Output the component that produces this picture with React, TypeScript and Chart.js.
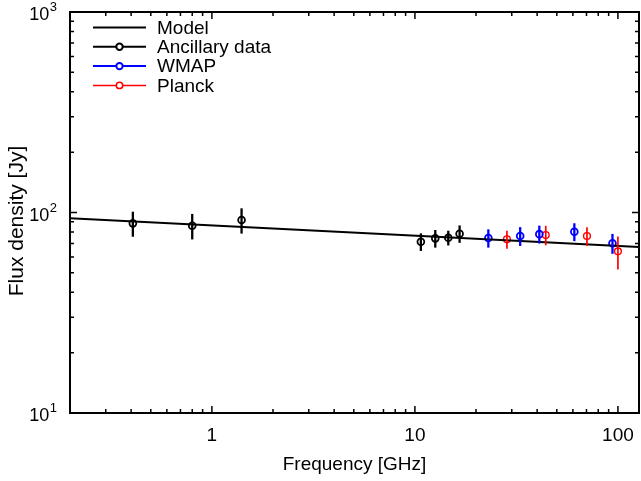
import React, { useEffect, useRef } from "react";
import { Chart, registerables } from "chart.js";

Chart.register(...registerables);

// ---- Data ----
const modelFreq = [0.2, 127];
const modelFlux = [93.6, 67.3];

const ancFreq = [0.408, 0.8, 1.4, 10.7, 12.6, 14.6, 16.6];
const ancFlux = [88.3, 85.9, 91.7, 71.5, 74.3, 74.8, 78.4];
const ancErr = [12.6, 12.5, 13.2, 7.2, 7.5, 6.3, 7.8];

const wmapFreq = [23, 33, 41, 61, 94];
const wmapFlux = [74.6, 76.3, 78.0, 80.2, 70.2];
const wmapErr = [7.8, 8.2, 8.0, 8.2, 8.0];

const planckFreq = [28.4, 44.1, 70.4, 100];
const planckFlux = [73.5, 77.2, 76.3, 64.0];
const planckErr = [7.6, 8.6, 8.2, 12.0];

const xMin = 0.2;
const xMax = 127;
const yMin = 10;
const yMax = 1000;
const xMajorTicks = [1, 10, 100];
const xTickLabels = ["1", "10", "100"];
const yMajorTicks = [10, 100, 1000];
const yTickExp = ["1", "2", "3"];

const legendLabels = ["Model", "Ancillary data", "WMAP", "Planck"];
const BLUE = "#0000ff";
const RED = "#ff0000";
const FONT = "'Liberation Sans', Arial, Helvetica, sans-serif";

function minorTicks(min: number, max: number): number[] {
  const out: number[] = [];
  const lo = Math.floor(Math.log10(min));
  const hi = Math.ceil(Math.log10(max));
  for (let e = lo; e <= hi; e++) {
    for (let m = 2; m <= 9; m++) {
      const v = m * Math.pow(10, e);
      if (v >= min - 1e-9 && v <= max + 1e-9) out.push(v);
    }
  }
  return out;
}

const errorBarPlugin = {
  id: "errorBars",
  afterDatasetsDraw(chart: any) {
    const ctx = chart.ctx;
    const xs = chart.scales.x;
    const ys = chart.scales.y;
    ctx.save();
    ctx.beginPath();
    ctx.rect(chart.chartArea.left, chart.chartArea.top, chart.chartArea.right - chart.chartArea.left, chart.chartArea.bottom - chart.chartArea.top);
    ctx.clip();
    chart.data.datasets.forEach((ds: any) => {
      if (!ds.errors) return;
      ctx.strokeStyle = ds.borderColor;
      ctx.lineWidth = ds.errWidth || 2;
      ds.data.forEach((p: any, i: number) => {
        const e = ds.errors[i];
        const px = xs.getPixelForValue(p.x);
        ctx.beginPath();
        ctx.moveTo(px, ys.getPixelForValue(p.y - e));
        ctx.lineTo(px, ys.getPixelForValue(p.y + e));
        ctx.stroke();
      });
    });
    ctx.restore();
  },
};

const framePlugin = {
  id: "frame",
  afterDraw(chart: any) {
    const ctx = chart.ctx;
    const { left, right, top, bottom } = chart.chartArea;
    const xs = chart.scales.x;
    const ys = chart.scales.y;
    ctx.save();
    ctx.strokeStyle = "#000";
    // ticks
    ctx.lineWidth = 1.5;
    const majL = 7;
    const minL = 4;
    const drawX = (v: number, len: number) => {
      const px = xs.getPixelForValue(v);
      ctx.beginPath();
      ctx.moveTo(px, bottom);
      ctx.lineTo(px, bottom - len);
      ctx.moveTo(px, top);
      ctx.lineTo(px, top + len);
      ctx.stroke();
    };
    const drawY = (v: number, len: number) => {
      const py = ys.getPixelForValue(v);
      ctx.beginPath();
      ctx.moveTo(left, py);
      ctx.lineTo(left + len, py);
      ctx.moveTo(right, py);
      ctx.lineTo(right - len, py);
      ctx.stroke();
    };
    xMajorTicks.forEach((v) => drawX(v, majL));
    minorTicks(xMin, xMax).forEach((v) => drawX(v, minL));
    yMajorTicks.forEach((v) => drawY(v, majL));
    minorTicks(yMin, yMax).forEach((v) => drawY(v, minL));
    // frame
    ctx.lineWidth = 2;
    ctx.strokeRect(left, top, right - left, bottom - top);

    // x tick labels
    ctx.fillStyle = "#000";
    ctx.font = `19px ${FONT}`;
    ctx.textAlign = "center";
    ctx.textBaseline = "alphabetic";
    xMajorTicks.forEach((v, i) => {
      ctx.fillText(xTickLabels[i], xs.getPixelForValue(v), bottom + 28);
    });
    // y tick labels (10^n)
    yMajorTicks.forEach((v, i) => {
      const py = ys.getPixelForValue(v);
      ctx.textAlign = "right";
      ctx.font = `13px ${FONT}`;
      const supRight = left - 13;
      ctx.fillText(yTickExp[i], supRight, py - 1);
      const w = ctx.measureText(yTickExp[i]).width;
      ctx.font = `18px ${FONT}`;
      ctx.fillText("10", supRight - w - 0.5, py + 8);
    });
    // axis titles
    ctx.font = `19px ${FONT}`;
    ctx.textAlign = "center";
    ctx.fillText("Frequency [GHz]", (left + right) / 2, bottom + 57);
    ctx.save();
    ctx.translate(23, 221);
    ctx.rotate(-Math.PI / 2);
    ctx.font = `21px ${FONT}`;
    ctx.fillText("Flux density [Jy]", 0, 0);
    ctx.restore();

    // legend
    const colors = ["#000", "#000", BLUE, RED];
    const widths = [2, 2, 2, 1.5];
    const x0 = left + 23;
    const x1 = left + 76;
    const tx = left + 87;
    ctx.font = `19px ${FONT}`;
    ctx.textAlign = "left";
    ctx.textBaseline = "middle";
    legendLabels.forEach((lab, i) => {
      const y = top + 15.5 + i * 19.3;
      ctx.strokeStyle = colors[i];
      ctx.lineWidth = widths[i];
      ctx.beginPath();
      ctx.moveTo(x0, y);
      ctx.lineTo(x1, y);
      ctx.stroke();
      if (i > 0) {
        ctx.beginPath();
        ctx.arc((x0 + x1) / 2, y, 3.2, 0, Math.PI * 2);
        ctx.fillStyle = "#fff";
        ctx.fill();
        ctx.stroke();
      }
      ctx.fillStyle = "#000";
      ctx.fillText(lab, tx, y + 1);
    });
    ctx.restore();
  },
};

function pts(xs: number[], ys: number[]) {
  return xs.map((x, i) => ({ x, y: ys[i] }));
}

export default function App() {
  const ref = useRef<HTMLCanvasElement | null>(null);
  useEffect(() => {
    if (!ref.current) return;
    const pointDs = (label: string, xs: number[], ys: number[], errs: number[], color: string, bw: number, ew: number) => ({
      type: "scatter" as const,
      label,
      data: pts(xs, ys),
      errors: errs,
      errWidth: ew,
      borderColor: color,
      backgroundColor: "rgba(0,0,0,0)",
      pointStyle: "circle",
      pointRadius: 3.4,
      pointBorderWidth: bw,
      showLine: false,
    });
    const chart = new Chart(ref.current, {
      type: "scatter",
      data: {
        datasets: [
          {
            type: "line",
            label: "Model",
            data: pts(modelFreq, modelFlux),
            borderColor: "#000",
            borderWidth: 2,
            pointRadius: 0,
            fill: false,
          } as any,
          pointDs("Ancillary data", ancFreq, ancFlux, ancErr, "#000", 1.8, 2.3) as any,
          pointDs("WMAP", wmapFreq, wmapFlux, wmapErr, BLUE, 1.8, 2.3) as any,
          pointDs("Planck", planckFreq, planckFlux, planckErr, RED, 1.4, 1.7) as any,
        ],
      },
      options: {
        responsive: false,
        animation: false,
        events: [],
        layout: { autoPadding: false, padding: { left: 70, right: 2, top: 12, bottom: 68 } },
        plugins: { legend: { display: false }, tooltip: { enabled: false } },
        scales: {
          x: { type: "logarithmic", min: xMin, max: xMax, display: false },
          y: { type: "logarithmic", min: yMin, max: yMax, display: false },
        },
      },
      plugins: [errorBarPlugin, framePlugin],
    });
    return () => chart.destroy();
  }, []);
  return (
    <div style={{ position: "fixed", left: 0, top: 0, width: 641, height: 481, background: "#fff" }}>
      <canvas ref={ref} width={641} height={481} style={{ width: 641, height: 481 }} />
    </div>
  );
}
